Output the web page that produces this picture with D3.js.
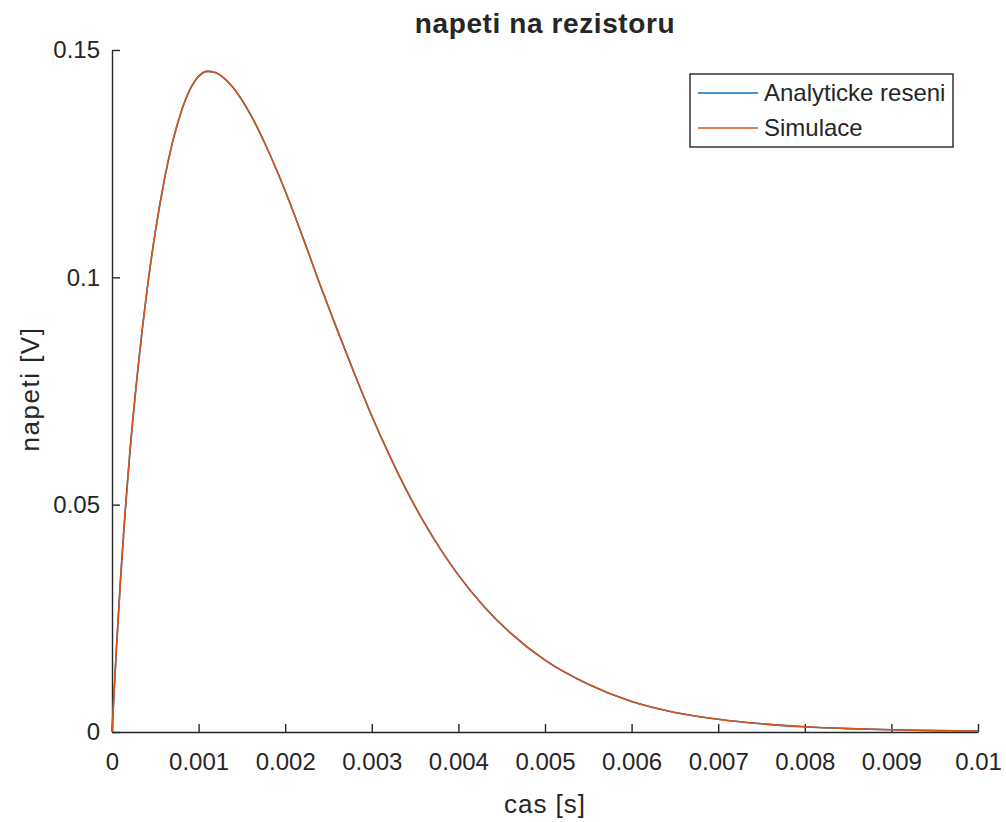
<!DOCTYPE html>
<meta charset="utf-8">
<script src="https://d3js.org/d3.v7.min.js"></script>
<style>
  body { margin: 0; background: #fff; }
  text { font-family: "Liberation Sans", Arial, sans-serif; fill: #262626; }
</style>
<div id="chart"></div>
<script>

// time [s] and voltage [V]
var cas = [0, 0.00005, 0.0001, 0.00015, 0.0002, 0.0003, 0.0004, 0.0005, 0.0006, 0.0007,
  0.0008, 0.0009, 0.001, 0.0011, 0.0012, 0.0013, 0.0014, 0.0015, 0.0016, 0.0018,
  0.002, 0.0022, 0.0024, 0.0026, 0.0028, 0.003, 0.0032, 0.0034, 0.0036, 0.0038,
  0.004, 0.0043, 0.0046, 0.005, 0.0055, 0.006, 0.0065, 0.007, 0.0075, 0.008,
  0.0085, 0.009, 0.0095, 0.01];

var analyticke = [0, 0.018, 0.034, 0.048, 0.060, 0.080, 0.0965, 0.110, 0.121, 0.1298,
  0.1365, 0.1413, 0.1442, 0.1453, 0.1450, 0.1437, 0.1417, 0.1390, 0.1358, 0.128,
  0.119, 0.109, 0.0985, 0.0885, 0.0788, 0.0695, 0.061, 0.0532, 0.0462, 0.0400,
  0.0345, 0.0275, 0.0218, 0.0158, 0.0105, 0.0067, 0.0043, 0.0028, 0.0018, 0.00115,
  0.00075, 0.0005, 0.0003, 0.0002];

var simulace = [0, 0.018, 0.034, 0.048, 0.060, 0.080, 0.0965, 0.110, 0.121, 0.1298,
  0.1365, 0.1413, 0.1442, 0.1453, 0.1450, 0.1437, 0.1417, 0.1390, 0.1358, 0.128,
  0.119, 0.109, 0.0985, 0.0885, 0.0788, 0.0695, 0.061, 0.0532, 0.0462, 0.0400,
  0.0345, 0.0275, 0.0218, 0.0158, 0.0105, 0.0067, 0.0043, 0.0028, 0.0018, 0.00115,
  0.00075, 0.0005, 0.0003, 0.0002];

var xTicks = [0, 0.001, 0.002, 0.003, 0.004, 0.005, 0.006, 0.007, 0.008, 0.009, 0.01];
var yTicks = [0, 0.05, 0.1, 0.15];

var seriesNames = ["Analyticke reseni", "Simulace"];
var seriesColors = ["#0072BD", "#D95319"];

var W = 1006, H = 822;
var margin = {top: 50, right: 28, bottom: 90, left: 112},
    width = W - margin.left - margin.right,
    height = H - margin.top - margin.bottom;

var svg = d3.select("#chart")
  .append("svg")
    .attr("width", W)
    .attr("height", H)
  .append("g")
    .attr("transform", "translate(" + margin.left + "," + margin.top + ")");

var x = d3.scaleLinear().domain([0, 0.01]).range([0, width]);
var y = d3.scaleLinear().domain([0, 0.15]).range([height, 0]);

// axes, ticks pointing inside like matlab
var xAxis = svg.append("g")
  .attr("transform", "translate(0," + height + ")")
  .call(d3.axisBottom(x).tickValues(xTicks).tickSizeInner(-8).tickSizeOuter(0)
    .tickPadding(21).tickFormat(function(d) { return String(+d.toFixed(4)); }));

var yAxis = svg.append("g")
  .call(d3.axisLeft(y).tickValues(yTicks).tickSizeInner(-8).tickSizeOuter(0)
    .tickPadding(12).tickFormat(function(d) { return String(+d.toFixed(3)); }));

[xAxis, yAxis].forEach(function(a) {
  a.selectAll("path, line").attr("stroke", "#262626").attr("stroke-width", 1.4);
  a.selectAll("text").style("font-size", "24px").attr("fill", "#262626")
    .style("font-family", "'Liberation Sans', Arial, sans-serif");
});

// lines
var line = d3.line()
  .x(function(d) { return x(d[0]); })
  .y(function(d) { return y(d[1]); })
  .curve(d3.curveMonotoneX);

[analyticke, simulace].forEach(function(vals, i) {
  svg.append("path")
    .datum(cas.map(function(t, j) { return [t, vals[j]]; }))
    .attr("fill", "none")
    .attr("stroke", seriesColors[i])
    .attr("stroke-width", 1.6)
    .attr("d", line);
});

// title and labels
svg.append("text")
  .attr("x", width / 2)
  .attr("y", 33 - margin.top)
  .attr("text-anchor", "middle")
  .style("font-size", "28px")
  .style("font-weight", "bold")
  .style("letter-spacing", "0.6px")
  .attr("fill", "#000")
  .text("napeti na rezistoru");

svg.append("text")
  .attr("x", width / 2)
  .attr("y", 813 - margin.top)
  .attr("text-anchor", "middle")
  .style("font-size", "26px")
  .style("letter-spacing", "1px")
  .text("cas [s]");

svg.append("text")
  .attr("transform", "rotate(-90)")
  .attr("x", -(389 - margin.top))
  .attr("y", 39 - margin.left)
  .attr("text-anchor", "middle")
  .style("font-size", "26px")
  .style("letter-spacing", "1.5px")
  .text("napeti [V]");

// legend
var legend = svg.append("g")
  .attr("transform", "translate(" + (690 - margin.left) + "," + (74 - margin.top) + ")");

legend.append("rect")
  .attr("width", 263)
  .attr("height", 73)
  .attr("fill", "#fff")
  .attr("stroke", "#262626")
  .attr("stroke-width", 1.4);

seriesNames.forEach(function(name, i) {
  var ly = 19 + i * 35;
  legend.append("line")
    .attr("x1", 8).attr("x2", 68)
    .attr("y1", ly).attr("y2", ly)
    .attr("stroke", seriesColors[i])
    .attr("stroke-width", 1.6);
  legend.append("text")
    .attr("x", 74)
    .attr("y", ly)
    .attr("dy", "0.35em")
    .style("font-size", "24px")
    .text(name);
});

</script>
